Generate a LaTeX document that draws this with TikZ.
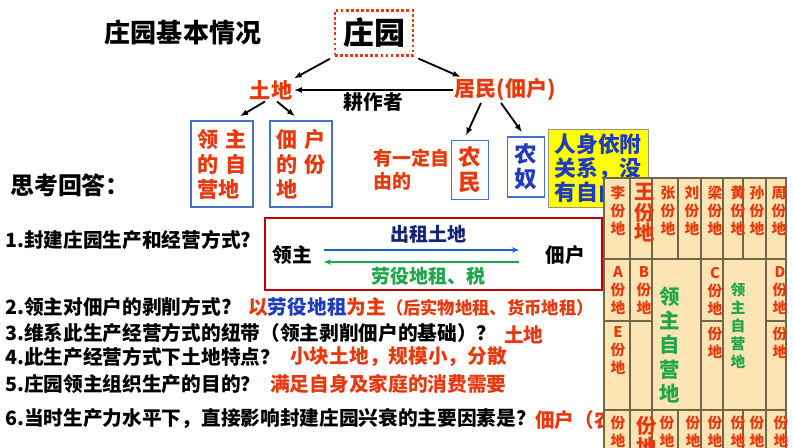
\documentclass[tikz,border=0pt]{standalone}
\usepackage{fontspec}
\setmainfont{Noto Sans CJK SC}
\usepackage{xcolor}
\usetikzlibrary{arrows.meta,positioning}
\definecolor{TextRed}{HTML}{E8380D}
\definecolor{TextBlue}{HTML}{1F3CC0}
\definecolor{BoxBlue}{HTML}{4472C4}
\definecolor{FrameRed}{HTML}{C00000}
\definecolor{LeafGreen}{HTML}{1FA64A}
\definecolor{FieldTan}{HTML}{FCE4B4}
\definecolor{FieldLine}{HTML}{6F6748}
\definecolor{NoteYellow}{HTML}{FFFF00}

\begin{document}
\begin{tikzpicture}[
  x=0.025cm, y=-0.025cm,
  arrow/.style={-{Latex[length=2mm]}, line width=1.3pt},
  thinarrow/.style={-{Stealth[length=1.8mm]}, line width=0.9pt},
  heading/.style={inner sep=0pt, font=\fontsize{18.5}{22}\selectfont\bfseries},
  keyword/.style={inner sep=1pt, text=TextRed, font=\fontsize{15}{18}\selectfont\bfseries},
  landbox/.style={draw=BoxBlue, line width=1pt, text=TextRed, align=left, minimum width=1.55cm, minimum height=2.15cm, inner sep=2pt, font=\fontsize{15}{17.8}\selectfont\bfseries},
  peoplebox/.style={draw=BoxBlue, line width=1pt, text=TextRed, align=center, minimum width=0.93cm, minimum height=1.48cm, inner sep=1pt, font=\fontsize{16}{17.8}\selectfont\bfseries},
  question/.style={anchor=west, inner sep=0pt, font=\fontsize{14}{16}\selectfont\bfseries},
  answer/.style={question, text=TextRed},
  flowtext/.style={inner sep=0pt, font=\fontsize{13.5}{16}\selectfont\bfseries},
  cell/.style={inner sep=0pt, align=center, text=TextRed, font=\fontsize{10.5}{12.8}\selectfont\bfseries}
]
\useasboundingbox (0,0) rectangle (794,447);
\clip (0,0) rectangle (794,447);

% manor overview
\node[heading] (jbqk) at (183,32) {庄园基本情况};
\node[draw=TextRed, line width=2pt, dash pattern=on 2pt off 1.6pt, minimum width=1.95cm, minimum height=1.12cm, inner sep=0pt, font=\fontsize{22}{26}\selectfont\bfseries] (zy) at (374,33) {庄园};
\node[keyword] (tudi) at (271,90) {土地};
\node[keyword] (jumin) at (505,90) {居民(佃户)};

\node[landbox] (zzy) at (222,164) {领\hspace{0.3em}主\\的\hspace{0.3em}自\\营地};
\node[landbox] (dfd) at (301,164) {佃\hspace{0.3em}户\\的\hspace{0.3em}份\\地};
\node[peoplebox] (nongmin) at (470,170) {农\\民};
\node[keyword, left=0mm of nongmin, align=left, font=\fontsize{13.5}{16.5}\selectfont\bfseries] (ziyou) {有一定自\\由的};
\node[peoplebox, text=TextBlue, minimum height=1.5cm] (nongnu) at (526,167) {农\\奴};
\node[draw=FieldLine!70, fill=NoteYellow, text=TextBlue, align=left, minimum width=2.5cm, minimum height=1.95cm, inner sep=2pt, font=\fontsize{15.5}{17.2}\selectfont\bfseries] (yifu) at (598,168) {人身依附\\关系，没\\有自由};

\draw[arrow, shorten <=3pt] (zy.south west) -- (tudi.north east);
\draw[arrow, shorten <=3pt] (zy.south east) -- ([xshift=2mm]jumin.north west);
\draw[arrow] (jumin.west) -- node[below=1pt, flowtext, font=\fontsize{14}{16}\selectfont\bfseries] (gengzuo) {耕作者} (tudi.east);
\draw[arrow] ([xshift=-1.5mm]tudi.south) -- ([xshift=4.5mm, yshift=1mm]zzy.north);
\draw[arrow] ([xshift=1.5mm]tudi.south) -- ([xshift=-1.5mm, yshift=1mm]dfd.north);
\draw[arrow] ([xshift=-6mm]jumin.south) -- ([xshift=-1mm, yshift=1mm]nongmin.north);
\draw[arrow] ([xshift=-1mm]jumin.south) -- ([xshift=-1mm, yshift=1mm]nongnu.north);

% questions
\node[heading, font=\fontsize{17}{20}\selectfont\bfseries] (sikao) at (70,185) {思考回答：};
\node[question] (q1) at (5,240) {1.封建庄园生产和经营方式?};
\draw[FrameRed, line width=1.5pt] (265,218) rectangle (602,290);
\node[flowtext, font=\fontsize{14}{16}\selectfont\bfseries] (lz) at (292,255) {领主};
\node[flowtext, font=\fontsize{14}{16}\selectfont\bfseries] (dh) at (565,255) {佃户};
\draw[thinarrow, TextBlue!80!cyan, shorten <=0.3cm, shorten >=0.65cm] ([yshift=0.125cm]lz.east) -- node[above=4pt, flowtext, text=TextBlue!60!black] (chuzu) {出租土地} ([yshift=0.125cm]dh.west);
\draw[thinarrow, LeafGreen, shorten <=0.65cm, shorten >=0.3cm] ([yshift=-0.175cm]dh.west) -- node[below=3pt, flowtext, text=LeafGreen] (laoyi) {劳役地租、税} ([yshift=-0.175cm]lz.east);

\node[question] (q2) at (5,307) {2.领主对佃户的剥削方式?};
\node[answer, font=\fontsize{14}{16}\selectfont\bfseries] (a2) at (248,307) {以\textcolor{TextBlue}{劳役地租}为主{\fontsize{12.3}{14}\selectfont（后实物地租、货币地租）}};
\node[question] (q3) at (5,333) {3.维系此生产经营方式的纽带（领主剥削佃户的基础）？};
\node[answer] (a3) at (504,335) {土地};
\node[question] (q4) at (5,357) {4.此生产经营方式下土地特点？};
\node[answer] (a4) at (290,357) {小块土地，规模小，分散};
\node[question] (q5) at (5,384) {5.庄园领主组织生产的目的？};
\node[answer] (a5) at (270,384) {满足自身及家庭的消费需要};
\node[question] (q6) at (5,418) {6.当时生产力水平下，直接影响封建庄园兴衰的主要因素是？};
\node[answer] (a6) at (535,420) {佃户（农};

% field map
\draw[FieldLine, fill=FieldTan, line width=1pt] (604,178) rectangle (786,460);
\draw[FieldLine, line width=1pt]
  (604,259) -- (786,259) (604,410) -- (786,410)
  (630,178) -- (630,460) (652,178) -- (652,460) (701,178) -- (701,460)
  (723,178) -- (723,460) (766,178) -- (766,460)
  (678,178) -- (678,259) (743,178) -- (743,259)
  (678,410) -- (678,460) (743,410) -- (743,460)
  (604,321) -- (652,321) (701,321) -- (723,321) (766,321) -- (786,321);

\node[cell] (li) at (618,211) {李\\份\\地};
\node[cell, font=\fontsize{14.5}{14.6}\selectfont\bfseries] (wang) at (645,213) {王\\份\\地};
\node[cell] (zhang) at (668,211) {张\\份\\地};
\node[cell] (liu) at (692,211) {刘\\份\\地};
\node[cell] (liang) at (715,211) {梁\\份\\地};
\node[cell] (huang) at (738,211) {黄\\份\\地};
\node[cell] (sun) at (757,211) {孙\\份\\地};
\node[cell] (zhou) at (779,211) {周\\份\\地};

\node[cell] (fa) at (618,291) {A\\份\\地};
\node[cell] (fb) at (644,291) {B\\份\\地};
\node[cell] (fc) at (715,291) {C\\份\\地};
\node[cell] (fd) at (780,291) {D\\份\\地};
\node[cell] (fe) at (618,351) {E\\份\\地};
\node[cell] (fc2) at (715,343) {份\\地};
\node[cell] (fd2) at (780,343) {份\\地};
\node[cell, text=LeafGreen, font=\fontsize{14.5}{17.2}\selectfont\bfseries] (zyd1) at (670,345) {领\\主\\自\\营\\地};
\node[cell, text=LeafGreen, font=\fontsize{10.5}{12.8}\selectfont\bfseries] (zyd2) at (738,326) {领\\主\\自\\营\\地};

\node[cell] (b1) at (618,432) {份\\地};
\node[cell, font=\fontsize{14.5}{14.6}\selectfont\bfseries] (b2) at (647,436) {份\\地};
\node[cell] (b3) at (667,432) {份\\地};
\node[cell] (b4) at (693,432) {份\\地};
\node[cell] (b5) at (715,432) {份\\地};
\node[cell] (b6) at (738,432) {份\\地};
\node[cell] (b7) at (757,432) {份\\地};
\node[cell] (b8) at (781,432) {份\\地};
\end{tikzpicture}
\end{document}
